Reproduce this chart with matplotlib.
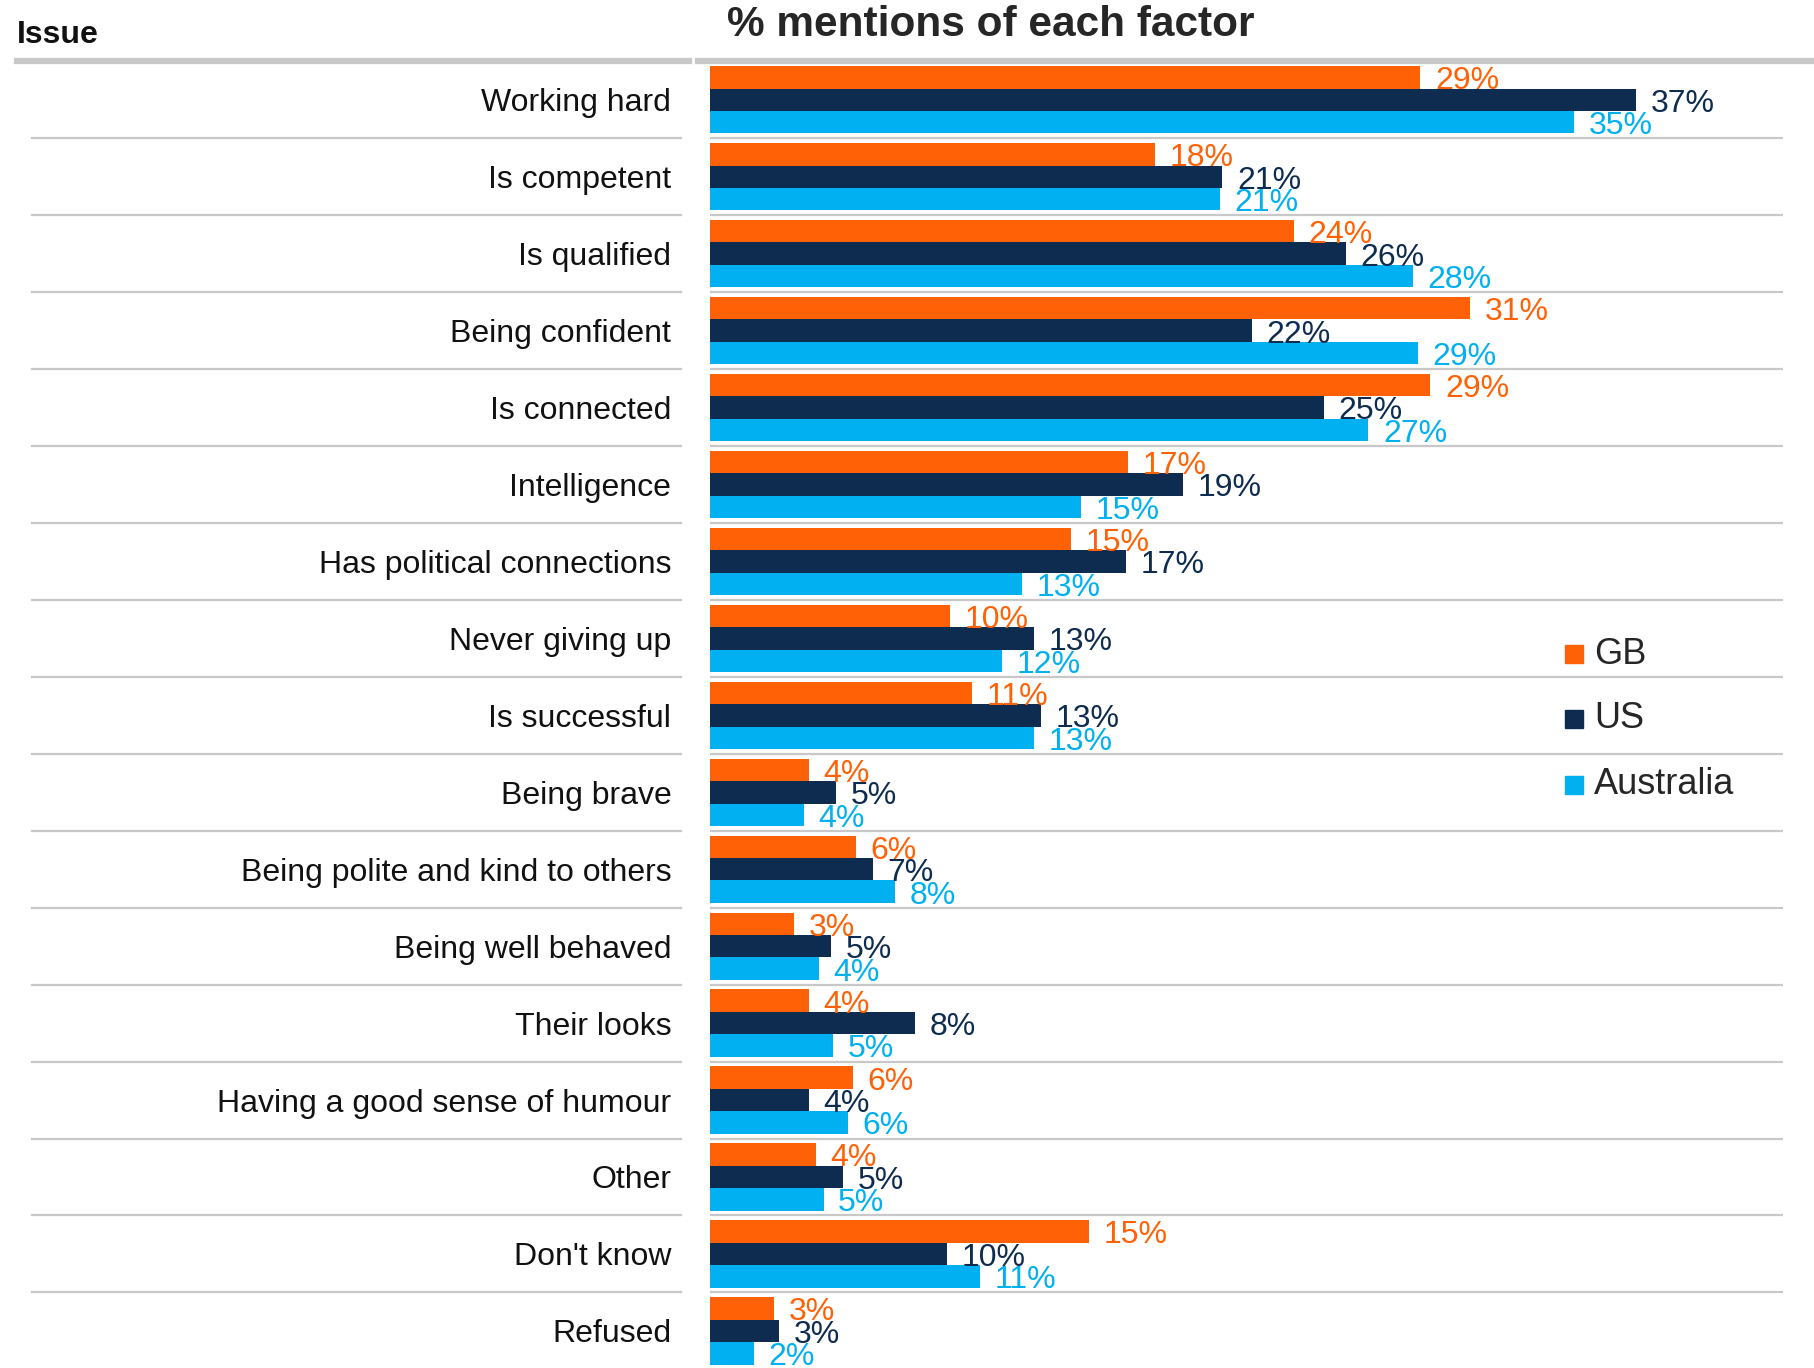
import matplotlib
matplotlib.use("Agg")
import matplotlib.pyplot as plt
from matplotlib.lines import Line2D
from matplotlib.patches import Rectangle
from matplotlib.transforms import blended_transform_factory

plt.rcParams['font.family'] = ['Liberation Sans', 'DejaVu Sans']

categories = ["Working hard", "Is competent", "Is qualified", "Being confident",
              "Is connected", "Intelligence", "Has political connections",
              "Never giving up", "Is successful", "Being brave",
              "Being polite and kind to others", "Being well behaved",
              "Their looks", "Having a good sense of humour", "Other",
              "Don't know", "Refused"]
series_names = ["GB", "US", "Australia"]
gb = [28.7, 18.0, 23.6, 30.7, 29.1, 16.9, 14.6, 9.7, 10.6, 4.0, 5.9, 3.4, 4.0, 5.8, 4.3, 15.3, 2.6]
us = [37.4, 20.7, 25.7, 21.9, 24.8, 19.1, 16.8, 13.1, 13.4, 5.1, 6.6, 4.9, 8.3, 4.0, 5.4, 9.6, 2.8]
au = [34.9, 20.6, 28.4, 28.6, 26.6, 15.0, 12.6, 11.8, 13.1, 3.8, 7.5, 4.4, 5.0, 5.6, 4.6, 10.9, 1.8]
colors = ["#FF6106", "#0E2C4F", "#00B0F0"]

W, H = 1815, 1368
S = W / 1568.0

def fx(p):
    return p * S / W

def fy(p):
    return 1 - p * S / H

fig = plt.figure(figsize=(W / 100, H / 100), dpi=100)
ax = fig.add_axes([fx(613), fy(1183), fx(1540) - fx(613), fy(53) - fy(1183)])

n = len(categories)
xmax = (1540 - 613) / 21.4
ax.set_xlim(0, xmax)
ax.set_ylim(n - 0.5, -0.5)

h = 0.2917
offs = [-h, 0, h]
for vals, c, o in zip([gb, us, au], colors, offs):
    ys = [i + o for i in range(n)]
    ax.barh(ys, vals, height=h, color=c, linewidth=0)
    for y, v in zip(ys, vals):
        ax.annotate(f"{round(v):.0f}%", xy=(v, y), xytext=(10.5, -2.8), textcoords='offset points',
                    va='center', ha='left', color=c, fontsize=23)

# separators
sep_color = "#C8C8C8"
ax.hlines([i + 0.5 for i in range(n - 1)], 0, xmax, color=sep_color, lw=1.6, zorder=0)
bt = blended_transform_factory(fig.transFigure, ax.transData)
for i in range(n - 1):
    fig.add_artist(Line2D([fx(28), fx(588)], [i + 0.5, i + 0.5], transform=bt,
                          color=sep_color, lw=1.6))

# header lines
fig.add_artist(Line2D([fx(15), fx(595)], [fy(53), fy(53)], color=sep_color, lw=4.5))
fig.add_artist(Line2D([fx(603), 1.0], [fy(53), fy(53)], color=sep_color, lw=4.5))

ax.set_yticks(range(n))
ax.set_yticklabels(categories, fontsize=23, color="#111111")
ax.tick_params(axis='y', length=0, pad=(613 - 580) * S * 0.72)
ax.set_xticks([])
for s in ax.spines.values():
    s.set_visible(False)

fig.text(fx(15), fy(37), "Issue", fontsize=23, fontweight='bold', color="#111111",
         ha='left', va='baseline')
fig.text(fx(628), fy(31), "% mentions of each factor", fontsize=30.5, fontweight='bold',
         color="#262626", ha='left', va='baseline')

# legend
leg_y = [565, 621, 678]
for name, c, yy in zip(series_names, colors, leg_y):
    fig.add_artist(Rectangle((fx(1352), fy(yy + 8)), fx(16), 16 * S / H,
                             transform=fig.transFigure, color=c))
    fig.text(fx(1377), fy(yy), name, fontsize=26, color="#262626", ha='left', va='center')

fig.savefig("out.png", dpi=100)
